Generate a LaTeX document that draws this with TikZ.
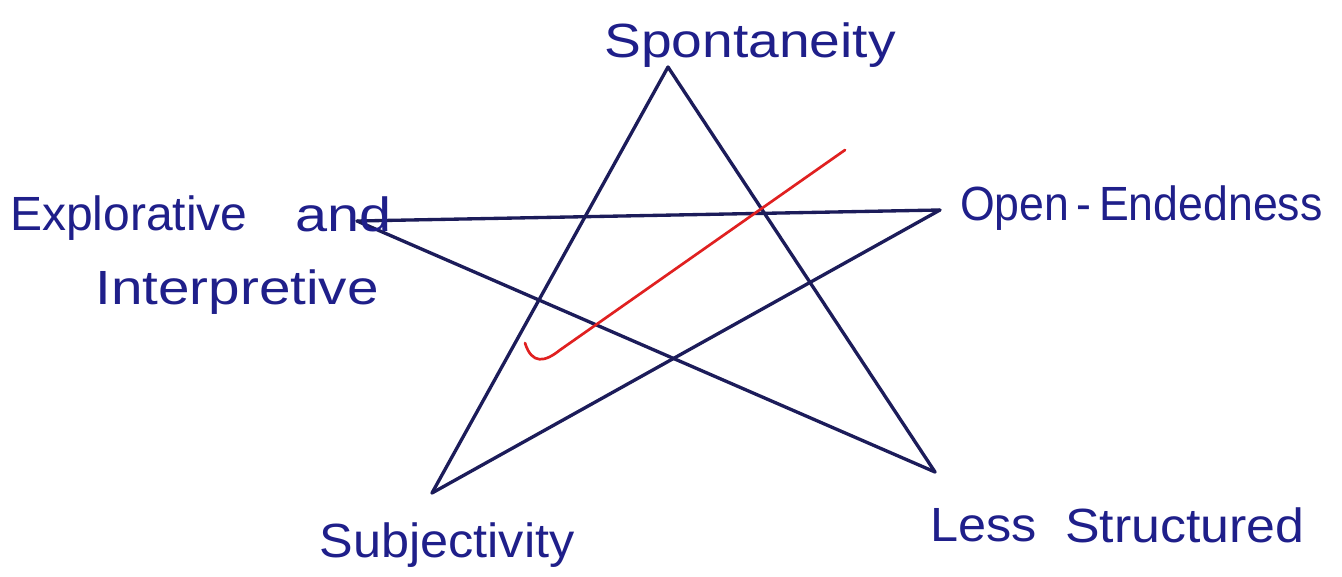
\documentclass[tikz,border=0pt]{standalone}
\usepackage{fontspec}
\setmainfont{Liberation Sans}
\definecolor{ink}{HTML}{1C1C5A}
\definecolor{textink}{HTML}{1F1F8A}
\definecolor{checkred}{HTML}{E02020}
\begin{document}
\begin{tikzpicture}[x=0.75pt,y=-0.75pt,
  starline/.style={draw=ink,line width=2.5pt,line cap=round,line join=round},
  lbl/.style={text=textink,font=\fontsize{36}{40}\selectfont,inner sep=0pt},
  checkmark/.style={draw=checkred,line width=2pt,line cap=round}]
\useasboundingbox[fill=white] (0,0) rectangle (1342,577);
\coordinate (T) at (668,67);
\coordinate (L) at (357,221);
\coordinate (R) at (940,210);
\coordinate (BL) at (432,493);
\coordinate (BR) at (935,472);
\draw[starline] (T) -- (BL);
\draw[starline] (T) -- (BR);
\draw[starline] (L) -- (R);
\draw[starline] (L) -- (BR);
\draw[starline] (R) -- (BL);
\coordinate (c1) at (525,343);
\coordinate (c2) at (845,150);
\draw[checkmark] (c1) .. controls (532,365) and (545,362) .. (560,350) -- (c2);
\node[lbl,xscale=1.15] (sp) at (750,45) {Spontaneity};
\node[lbl,anchor=west] (ex) at (10,218) {Explorative};
\node[lbl,anchor=west,xscale=1.2] (an) at (295,214) {and};
\node[lbl,anchor=west,xscale=1.18] (in) at (95,292) {Interpretive};
\node[lbl,anchor=west,xscale=0.93] (op) at (960,208) {Open\,-\,Endedness};
\node[lbl,xscale=1.05] (su) at (447,545) {Subjectivity};
\node[lbl,anchor=west,xscale=1.05] (le) at (930,525) {Less};
\node[lbl,anchor=west,xscale=1.08] (st) at (1065,525) {Structured};
\end{tikzpicture}
\end{document}
